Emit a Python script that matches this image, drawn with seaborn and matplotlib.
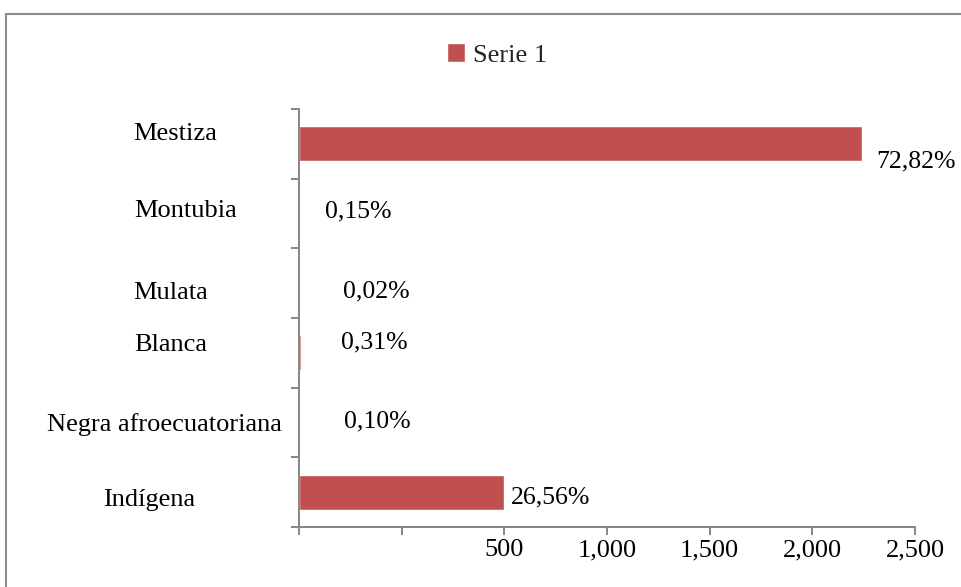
import numpy as np
import pandas as pd
import matplotlib
matplotlib.use("Agg")
import matplotlib.pyplot as plt
from matplotlib.patches import Rectangle
from matplotlib.transforms import ScaledTranslation
import seaborn as sns

# data (counts, labels as printed)
categories = ["Mestiza", "Montubia", "Mulata", "Blanca", "Negra afroecuatoriana", "Indígena"]
counts = [2284, 5, 1, 10, 3, 833]
pct_labels = ["72,82%", "0,15%", "0,02%", "0,31%", "0,10%", "26,56%"]
series_name = "Serie 1"
x_tick_values = [0, 416.67, 833.33, 1250, 1666.67, 2083.33, 2500]
x_tick_labels = ["", "", "500", "1,000", "1,500", "2,000", "2,500"]

# hand-placed label nudges from the original (pixels: right, down)
cat_label_nudge = [(7, -12), (17, -5), (2, 7), (2, -10), (-4, 0), (-19, 5)]
val_label_nudge = [(14, 18), (25, -2), (44, 8), (40, -10), (44, -1), (7, 5)]

BAR = "#C0504D"
GRAY = "#868686"

sns.set_style("white")
plt.rcParams["font.family"] = ["Liberation Serif", "DejaVu Serif"]

df = pd.DataFrame({"Categoria": categories, "Valor": counts})

fig = plt.figure(figsize=(9.61, 5.87), dpi=100)
ax = fig.add_axes([299 / 961, 1 - 527 / 587, 616 / 961, 418 / 587])

sns.barplot(data=df, x="Valor", y="Categoria", orient="h", color=BAR,
            width=0.5, saturation=1, label=series_name, ax=ax)

ax.set_xlim(0, 2500)
ax.set_ylim(5.5, -0.5)
ax.set_xlabel("")
ax.set_ylabel("")

for side in ["top", "right"]:
    ax.spines[side].set_visible(False)
for side in ["left", "bottom"]:
    ax.spines[side].set_color(GRAY)
    ax.spines[side].set_linewidth(1.4)

# x axis
ax.set_xticks(x_tick_values, x_tick_labels)
ax.tick_params(axis="x", which="major", bottom=True, length=5.8, width=1.4,
               color=GRAY, direction="out", pad=3, labelsize=19,
               labelcolor="black")

# y axis: tick marks between categories, labels on minor ticks
ax.set_yticks(np.arange(-0.5, 6, 1), [""] * 7)
ax.set_yticks(range(len(categories)), categories, minor=True)
ax.tick_params(axis="y", which="major", left=True, length=5.8, width=1.4,
               color=GRAY, direction="out")
ax.tick_params(axis="y", which="minor", left=True, length=0, pad=94,
               labelsize=19, labelcolor="black")
for lab, (dx, dy) in zip(ax.get_yticklabels(minor=True), cat_label_nudge):
    lab.set_horizontalalignment("center")
    lab.set_transform(lab.get_transform()
                      + ScaledTranslation(dx / 100, -dy / 100, fig.dpi_scale_trans))

# value labels
for i, (val, txt) in enumerate(zip(counts, pct_labels)):
    dx, dy = val_label_nudge[i]
    ax.annotate(txt, xy=(val, i), xytext=(dx, -dy), textcoords="offset pixels",
                ha="left", va="center", fontsize=18.5, color="black")

# legend on top
ax.legend(loc="center", bbox_to_anchor=(0.517, 0.906),
          bbox_transform=fig.transFigure, frameon=False, fontsize=19,
          handlelength=0.7, handleheight=0.7, handletextpad=0.3)

# outer chart frame (cropped at right and bottom)
fig.patches.append(Rectangle((6 / 961, -0.05), 1.1, 1 - 14 / 587 + 0.05,
                             transform=fig.transFigure, fill=False,
                             edgecolor="#8c8c8c", linewidth=1.5))

plt.savefig("out.png", dpi=100)
